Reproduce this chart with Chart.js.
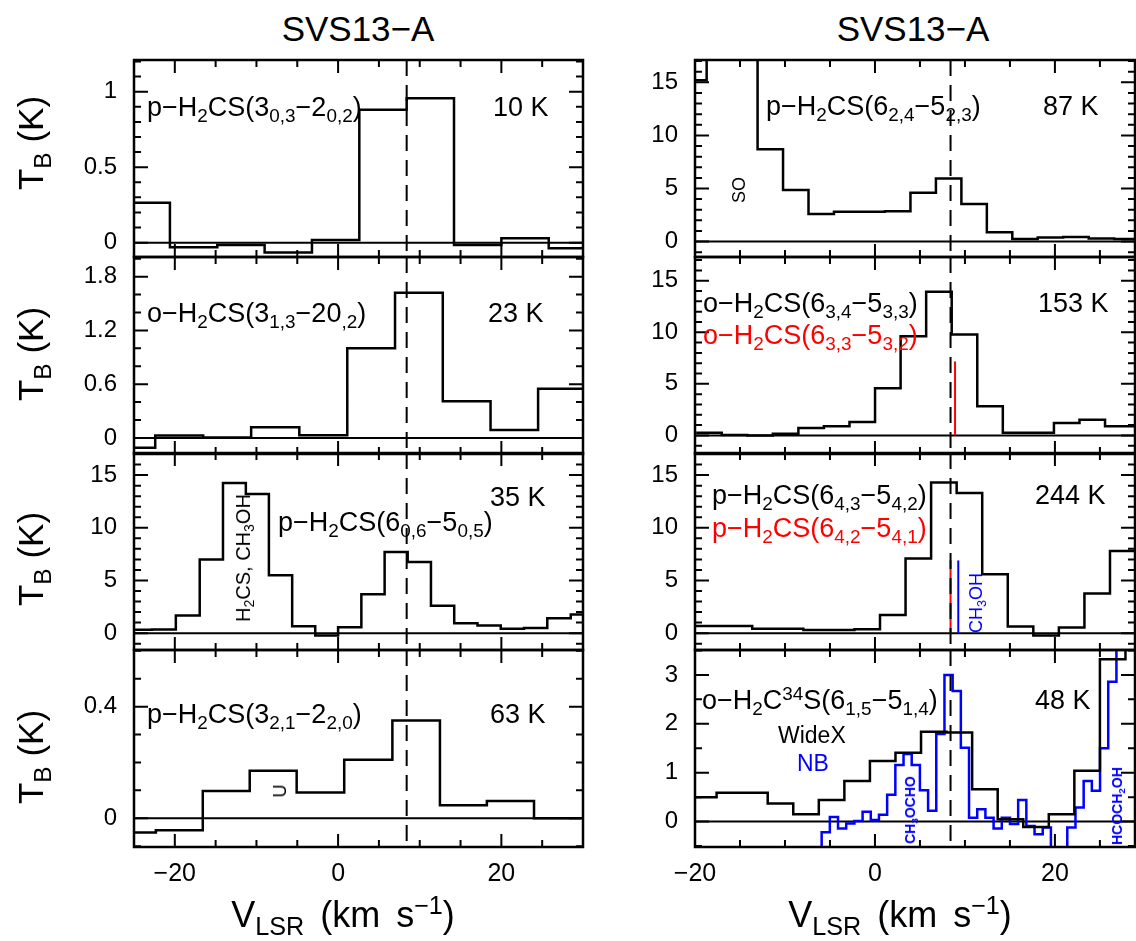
<!DOCTYPE html>
<html>
<head>
<meta charset="utf-8">
<title>SVS13-A H2CS spectra</title>
<script src="https://cdn.jsdelivr.net/npm/chart.js@4.4.1/dist/chart.umd.min.js"></script>
<style>
  html, body { margin: 0; padding: 0; background: #fff; }
  body { position: relative; width: 1136px; height: 941px; overflow: hidden;
         font-family: "Liberation Sans", Arial, Helvetica, sans-serif; color: #000; }
  canvas { position: absolute; }
  .txt { position: absolute; white-space: nowrap; line-height: 1; }
  .lab { font-size: 27px; }
  .ctr { transform: translate(-50%, -50%); }
  .rot { transform: translate(-50%, -50%) rotate(-90deg); }
  sub, sup { font-size: 0.7em; line-height: 0; vertical-align: baseline; position: relative; }
  sub { top: 0.32em; }
  sup { top: -0.5em; }
  .red { color: #f00; }
  .blue { color: #00f; }
</style>
</head>
<body>
<div id="plots"></div>

<!-- column titles -->
<div class="txt ctr" style="left:358px; top:28px; font-size:35px;">SVS13−A</div>
<div class="txt ctr" style="left:913px; top:28px; font-size:35px;">SVS13−A</div>

<!-- axis titles -->
<div class="txt rot" style="left:30px; top:143px; font-size:35px;">T<sub>B</sub> (K)</div>
<div class="txt rot" style="left:30px; top:354px; font-size:35px;">T<sub>B</sub> (K)</div>
<div class="txt rot" style="left:30px; top:559px; font-size:35px;">T<sub>B</sub> (K)</div>
<div class="txt rot" style="left:30px; top:757px; font-size:35px;">T<sub>B</sub> (K)</div>
<div class="txt ctr" style="left:343px; top:915px; font-size:36px; word-spacing:6px;">V<sub>LSR</sub> (km s<sup>−1</sup>)</div>
<div class="txt ctr" style="left:900px; top:915px; font-size:36px; word-spacing:6px;">V<sub>LSR</sub> (km s<sup>−1</sup>)</div>

<!-- left column labels -->
<div class="txt lab" style="left:147px; top:94px;">p−H<sub>2</sub>CS(3<sub>0,3</sub>−2<sub>0,2</sub>)</div>
<div class="txt lab" style="left:493px; top:94px;">10 K</div>
<div class="txt lab" style="left:147px; top:300px;">o−H<sub>2</sub>CS(3<sub>1,3</sub>−20<sub>,2</sub>)</div>
<div class="txt lab" style="left:488px; top:300px;">23 K</div>
<div class="txt lab" style="left:278px; top:509px;">p−H<sub>2</sub>CS(6<sub>0,6</sub>−5<sub>0,5</sub>)</div>
<div class="txt lab" style="left:490px; top:484px;">35 K</div>
<div class="txt rot" style="left:243px; top:558px; font-size:20px;">H<sub>2</sub>CS, CH<sub>3</sub>OH</div>
<div class="txt lab" style="left:147px; top:701px;">p−H<sub>2</sub>CS(3<sub>2,1</sub>−2<sub>2,0</sub>)</div>
<div class="txt lab" style="left:490px; top:701px;">63 K</div>
<div class="txt rot" style="left:280px; top:791px; font-size:18px;">U</div>

<!-- right column labels -->
<div class="txt lab" style="left:766px; top:93px;">p−H<sub>2</sub>CS(6<sub>2,4</sub>−5<sub>2,3</sub>)</div>
<div class="txt lab" style="left:1043px; top:93px;">87 K</div>
<div class="txt rot" style="left:739px; top:190px; font-size:18px;">SO</div>
<div class="txt lab" style="left:703px; top:290px;">o−H<sub>2</sub>CS(6<sub>3,4</sub>−5<sub>3,3</sub>)</div>
<div class="txt lab red" style="left:703px; top:322px;">o−H<sub>2</sub>CS(6<sub>3,3</sub>−5<sub>3,2</sub>)</div>
<div class="txt lab" style="left:1038px; top:290px;">153 K</div>
<div class="txt lab" style="left:712px; top:482px;">p−H<sub>2</sub>CS(6<sub>4,3</sub>−5<sub>4,2</sub>)</div>
<div class="txt lab red" style="left:712px; top:515px;">p−H<sub>2</sub>CS(6<sub>4,2</sub>−5<sub>4,1</sub>)</div>
<div class="txt lab" style="left:1035px; top:482px;">244 K</div>
<div class="txt rot blue" style="left:976px; top:603px; font-size:18px;">CH<sub>3</sub>OH</div>
<div class="txt lab" style="left:702px; top:687px;">o−H<sub>2</sub>C<sup>34</sup>S(6<sub>1,5</sub>−5<sub>1,4</sub>)</div>
<div class="txt lab" style="left:1035px; top:687px;">48 K</div>
<div class="txt" style="left:778px; top:724px; font-size:23px;">WideX</div>
<div class="txt blue" style="left:797px; top:752px; font-size:23px;">NB</div>
<div class="txt rot blue" style="left:910px; top:810px; font-size:14px; font-weight:bold;">CH<sub>3</sub>OCHO</div>
<div class="txt rot blue" style="left:1117px; top:806px; font-size:14px; font-weight:bold;">HCOCH<sub>2</sub>OH</div>

<script>
// systemic velocity (km/s)
const vsys = 8.4;

// x tick labels
const xTickLabels = [-20, 0, 20];

// p-H2CS(3_03-2_02), 10 K  (bin centres, km/s / brightness, K)
const p1Vel = [-23.5, -17.7, -11.9, -6.1, -0.3, 5.5, 11.3, 17.1, 22.9, 28.7];
const p1Tb  = [0.265, -0.03, -0.015, -0.066, 0.018, 0.88, 0.956, -0.015, 0.03, -0.037];
const p1Ticks = [0, 0.5, 1];

// o-H2CS(3_13-2_02), 23 K
const p2Vel = [-25.35, -19.45, -13.6, -7.7, -1.8, 4.05, 9.9, 15.75, 21.6, 27.4];
const p2Tb  = [-0.11, 0.027, 0.005, 0.12, 0.03, 1.0, 1.62, 0.41, 0.087, 0.55];
const p2Ticks = [0, 0.6, 1.2, 1.8];

// p-H2CS(6_06-5_05), 35 K
const p3Vel = [-24.25, -21.35, -18.4, -15.5, -12.7, -9.9, -7.05, -4.2, -1.4, 1.4,
               4.3, 7.1, 9.95, 12.8, 15.65, 18.5, 21.35, 24.2, 27.05, 29.95];
const p3Tb  = [0.33, 0.35, 1.67, 7.0, 14.25, 13.2, 5.5, 0.66, -0.22, 0.57,
               3.7, 7.7, 6.76, 2.6, 0.94, 0.72, 0.41, 0.5, 1.41, 1.76];
const p3Ticks = [0, 5, 10, 15];

// p-H2CS(3_21-2_20), 63 K
const p4Vel = [-25.2, -19.45, -13.7, -7.95, -2.2, 3.7, 9.6, 15.35, 21.1, 26.9];
const p4Tb  = [-0.051, -0.043, 0.098, 0.17, 0.092, 0.21, 0.35, 0.047, 0.062, 0.0];
const p4Ticks = [0, 0.4];

// p-H2CS(6_24-5_23), 87 K  (the SO line goes off the top of the panel)
const p5Vel = [-20.12, -17.29, -14.46, -11.63, -8.8, -5.97, -3.14, -0.31, 2.53,
               5.36, 8.19, 11.02, 13.85, 16.68, 19.5, 22.34, 25.17, 28.0];
const p5Tb  = [15.2, 30, 26, 8.7, 4.87, 2.6, 2.8, 2.8, 2.85,
               4.6, 5.94, 3.53, 0.875, 0.25, 0.375, 0.44, 0.3, 0.25];
const p5Ticks = [0, 5, 10, 15];

// o-H2CS(6_34-5_33) + (6_33-5_32), 153 K
const p6Vel = [-18.45, -15.61, -12.77, -9.93, -7.09, -4.25, -1.41, 1.43, 4.27,
               7.11, 9.95, 12.79, 15.63, 18.47, 21.31, 24.15, 26.99, 29.83];
const p6Tb  = [0.26, 0.05, 0.0, 0.16, 0.72, 0.88, 1.30, 4.57, 9.62,
               13.93, 9.78, 2.84, 0.26, 0.26, 1.21, 1.53, 0.88, 0.88];
const p6RedVel = [8.9, 8.9];
const p6RedTb  = [0, 7.18];
const p6Ticks = [0, 5, 10, 15];

// p-H2CS(6_43-5_42) + (6_42-5_41), 244 K
const p7Vel = [-20.74, -17.9, -15.06, -12.22, -9.38, -6.54, -3.7, -0.86, 1.98,
               4.82, 7.66, 10.5, 13.34, 16.18, 19.02, 21.86, 24.7, 27.54];
const p7Tb  = [0.69, 0.69, 0.69, 0.41, 0.41, 0.31, 0.31, 0.38, 1.73,
               7.08, 14.3, 13.3, 5.6, 0.63, -0.22, 0.53, 3.77, 7.8];
const p7RedVel = [8.4, 8.4];
const p7RedTb  = [0, 6.9];
const p7BlueVel = [9.26, 9.26];
const p7BlueTb  = [0, 6.9];
const p7Ticks = [0, 5, 10, 15];

// o-H2C34S(6_15-5_14), 48 K : WideX (black) and NB (blue)
const p8WideVel = [-19.02, -16.18, -13.34, -10.5, -7.66, -4.82, -1.98, 0.86, 3.7,
                   6.54, 9.38, 12.22, 15.06, 17.9, 20.74, 23.58, 26.42, 29.26];
const p8WideTb  = [0.5, 0.59, 0.59, 0.37, 0.15, 0.44, 0.83, 1.24, 1.41,
                   1.84, 1.82, 0.66, 0.05, -0.11, 0.15, 1.04, 3.32, 3.6];
const p8NbVel = [-6.38, -5.47, -4.56, -3.65, -2.74, -1.83, -0.92, -0.01, 0.90, 1.81,
                 2.72, 3.63, 4.54, 5.45, 6.36, 7.27, 8.18, 9.09, 10.0, 10.91,
                 11.82, 12.73, 13.64, 14.55, 15.46, 16.37, 17.28, 18.19, 19.10, 20.01,
                 20.92, 21.83, 22.74, 23.65, 24.56, 25.47, 26.38, 27.29];
const p8NbTb  = [-0.7, -0.22, 0.095, -0.14, -0.04, 0.014, 0.2, 0.03, 0.14, 0.55,
                 1.16, 1.38, 1.16, 0.64, 0.22, 1.79, 3.0, 2.67, 1.51, 0.08,
                 0.25, 0.08, -0.14, 0.08, -0.05, 0.44, -0.09, -0.26, -0.12, -0.6,
                 -0.6, -0.12, 0.29, 0.83, 0.63, 1.5, 2.86, 3.8];
const p8Ticks = [0, 1, 2, 3];

// layout
const COLS = [
    { left: 0, width: 600, yWidth: 134, padRight: 17, xMin: -25, xMax: 30 },
    { left: 600, width: 536, yWidth: 95, padRight: 1, xMin: -20, xMax: 28.9 }
];
const ROW_TOP = [60, 257, 453, 650];
const ROW_H = 197;
const PAD = 12;
const XLAB_H = 50;

const BLACK = '#000000';
const RED = '#ff0000';
const BLUE = '#0000ff';

/**
 * Turn bin centres + values into histogram corner points
 */
function stepPoints(vel, tb) {
    const pts = [];
    for (let i = 0; i < vel.length; i++) {
        const lo = i > 0 ? (vel[i - 1] + vel[i]) / 2 : vel[0] - (vel[1] - vel[0]) / 2;
        const hi = i < vel.length - 1 ? (vel[i] + vel[i + 1]) / 2 : vel[i] + (vel[i] - vel[i - 1]) / 2;
        pts.push({ x: lo, y: tb[i] }, { x: hi, y: tb[i] });
    }
    return pts;
}

const fmt = v => (v < 0 ? '\u2212' + Math.abs(v) : String(v));

function tickLoop(min, max, step, major, cb) {
    const k0 = Math.ceil(min / step - 1e-9);
    const k1 = Math.floor(max / step + 1e-9);
    for (let k = k0; k <= k1; k++) {
        const v = k * step;
        const r = v / major;
        cb(v, Math.abs(r - Math.round(r)) < 1e-6);
    }
}

// no extra room for labels overhanging the ends of an axis
function noOverhang(s) {
    s.paddingTop = 0;
    s.paddingBottom = 0;
    s.paddingLeft = 0;
    s.paddingRight = 0;
}

// zero line, v_sys marker, frame and inward ticks
const framePlugin = {
    id: 'frame',
    beforeDatasetsDraw(chart) {
        const { ctx, chartArea: a, scales: { y } } = chart;
        const y0 = y.getPixelForValue(0);
        ctx.save();
        ctx.strokeStyle = BLACK;
        ctx.lineWidth = 2;
        ctx.beginPath();
        ctx.moveTo(a.left, y0);
        ctx.lineTo(a.right, y0);
        ctx.stroke();
        ctx.restore();
    },
    afterDatasetsDraw(chart, args, opts) {
        const { ctx, chartArea: a, scales: { x, y } } = chart;
        ctx.save();
        ctx.strokeStyle = BLACK;

        // v_sys dashed line
        const xv = x.getPixelForValue(vsys);
        ctx.lineWidth = 2;
        ctx.setLineDash([16, 9]);
        ctx.beginPath();
        ctx.moveTo(xv, a.top);
        ctx.lineTo(xv, a.bottom);
        ctx.stroke();
        ctx.setLineDash([]);

        // ticks
        ctx.beginPath();
        tickLoop(x.min, x.max, 5, 20, (v, major) => {
            const px = x.getPixelForValue(v);
            const len = major ? 13 : 7;
            ctx.moveTo(px, a.bottom); ctx.lineTo(px, a.bottom - len);
            ctx.moveTo(px, a.top); ctx.lineTo(px, a.top + len);
        });
        tickLoop(y.min, y.max, opts.yMinor, opts.yMajor, (v, major) => {
            const py = y.getPixelForValue(v);
            const len = major ? 14 : 7;
            ctx.moveTo(a.left, py); ctx.lineTo(a.left + len, py);
            ctx.moveTo(a.right, py); ctx.lineTo(a.right - len, py);
        });
        ctx.stroke();

        // frame
        ctx.lineWidth = 2.5;
        ctx.strokeRect(a.left, a.top, a.right - a.left, a.bottom - a.top);
        ctx.restore();
    }
};

const panels = [
    { col: 0, row: 0, yMin: -0.095, yMax: 1.21, yTicks: p1Ticks, yMajor: 0.5, yMinor: 0.1,
      series: [{ vel: p1Vel, tb: p1Tb, color: BLACK }] },
    { col: 0, row: 1, yMin: -0.18, yMax: 2.02, yTicks: p2Ticks, yMajor: 0.6, yMinor: 0.2,
      series: [{ vel: p2Vel, tb: p2Tb, color: BLACK }] },
    { col: 0, row: 2, yMin: -1.6, yMax: 17.1, yTicks: p3Ticks, yMajor: 5, yMinor: 1,
      series: [{ vel: p3Vel, tb: p3Tb, color: BLACK }] },
    { col: 0, row: 3, yMin: -0.103, yMax: 0.603, yTicks: p4Ticks, yMajor: 0.4, yMinor: 0.1,
      series: [{ vel: p4Vel, tb: p4Tb, color: BLACK }] },
    { col: 1, row: 0, yMin: -1.45, yMax: 17.1, yTicks: p5Ticks, yMajor: 5, yMinor: 1,
      series: [{ vel: p5Vel, tb: p5Tb, color: BLACK }] },
    { col: 1, row: 1, yMin: -1.8, yMax: 17.3, yTicks: p6Ticks, yMajor: 5, yMinor: 1,
      series: [
          { vel: p6Vel, tb: p6Tb, color: BLACK },
          { vel: p6RedVel, tb: p6RedTb, color: RED, raw: true, width: 2 }
      ] },
    { col: 1, row: 2, yMin: -1.6, yMax: 17.1, yTicks: p7Ticks, yMajor: 5, yMinor: 1,
      series: [
          { vel: p7Vel, tb: p7Tb, color: BLACK },
          { vel: p7RedVel, tb: p7RedTb, color: RED, raw: true, width: 2 },
          { vel: p7BlueVel, tb: p7BlueTb, color: BLUE, raw: true, width: 2 }
      ] },
    { col: 1, row: 3, yMin: -0.52, yMax: 3.51, yTicks: p8Ticks, yMajor: 1, yMinor: 0.5,
      series: [
          { vel: p8WideVel, tb: p8WideTb, color: BLACK },
          { vel: p8NbVel, tb: p8NbTb, color: BLUE }
      ] }
];

function makePanel(p) {
    const col = COLS[p.col];
    const bottom = p.row === 3;
    const canvas = document.createElement('canvas');
    canvas.width = col.width;
    canvas.height = PAD + ROW_H + (bottom ? XLAB_H : PAD);
    canvas.style.left = col.left + 'px';
    canvas.style.top = (ROW_TOP[p.row] - PAD) + 'px';
    document.getElementById('plots').appendChild(canvas);

    const datasets = p.series.map(s => ({
        data: s.raw ? s.vel.map((v, i) => ({ x: v, y: s.tb[i] })) : stepPoints(s.vel, s.tb),
        borderColor: s.color,
        borderWidth: s.width || 2.5,
        pointRadius: 0,
        tension: 0,
        fill: false
    }));

    return new Chart(canvas, {
        type: 'line',
        data: { datasets },
        options: {
            responsive: false,
            animation: false,
            events: [],
            layout: { padding: { left: 0, right: col.padRight, top: PAD, bottom: bottom ? 0 : PAD } },
            plugins: {
                legend: { display: false },
                tooltip: { enabled: false },
                frame: { yMajor: p.yMajor, yMinor: p.yMinor }
            },
            scales: {
                x: {
                    type: 'linear',
                    min: col.xMin,
                    max: col.xMax,
                    grid: { display: false, drawTicks: false },
                    border: { display: false },
                    ticks: { display: bottom, padding: 12, color: BLACK, font: { size: 25 }, callback: fmt },
                    afterBuildTicks: s => { s.ticks = xTickLabels.map(v => ({ value: v })); },
                    afterFit: s => { s.height = bottom ? XLAB_H : 0; noOverhang(s); }
                },
                y: {
                    type: 'linear',
                    min: p.yMin,
                    max: p.yMax,
                    grid: { display: false, drawTicks: false },
                    border: { display: false },
                    ticks: { padding: 17, color: BLACK, font: { size: 24 }, callback: fmt },
                    afterBuildTicks: s => { s.ticks = p.yTicks.map(v => ({ value: v })); },
                    afterFit: s => { s.width = col.yWidth; noOverhang(s); }
                }
            }
        },
        plugins: [framePlugin]
    });
}

Chart.defaults.font.family = '"Liberation Sans", Arial, Helvetica, sans-serif';
panels.forEach(makePanel);
</script>
</body>
</html>
